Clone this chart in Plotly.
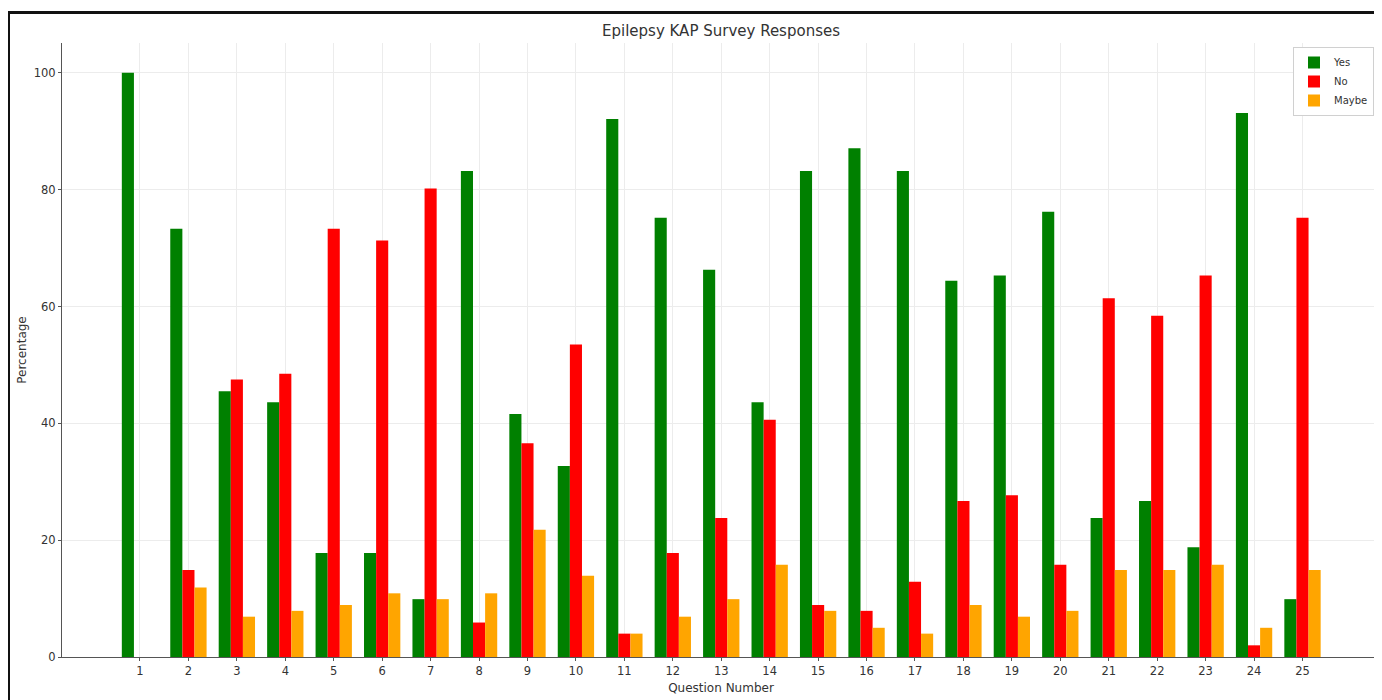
import plotly.graph_objects as go

questions = list(range(1, 26))
yes = [100.0, 73.3, 45.5, 43.6, 17.8, 17.8, 9.9, 83.2, 41.6, 32.7, 92.1, 75.2, 66.3,
       43.6, 83.2, 87.1, 83.2, 64.4, 65.3, 76.2, 23.8, 26.7, 18.8, 93.1, 9.9]
no = [0.0, 14.9, 47.5, 48.5, 73.3, 71.3, 80.2, 5.9, 36.6, 53.5, 4.0, 17.8, 23.8,
      40.6, 8.9, 7.9, 12.9, 26.7, 27.7, 15.8, 61.4, 58.4, 65.3, 2.0, 75.2]
maybe = [0.0, 11.9, 6.9, 7.9, 8.9, 10.9, 9.9, 10.9, 21.8, 13.9, 4.0, 6.9, 9.9,
         15.8, 7.9, 5.0, 4.0, 8.9, 6.9, 7.9, 14.9, 14.9, 15.8, 5.0, 14.9]
tick_labels = [str(q) for q in questions]

# page body has an 8px margin; work in page coordinates and shift
OFF = 8
W, H = 1382 - OFF, 700 - OFF
L, R, T, B = 62 - OFF, 2, 43 - OFF, 43
pw, ph = W - L - R, H - T - B

def px2paper_x(px):
    return (px - OFF - L) / pw

def px2paper_y(py):
    return (H - B - (py - OFF)) / ph

series = [("Yes", yes, "#008000", -0.375), ("No", no, "#ff0000", -0.125), ("Maybe", maybe, "#ffa500", 0.125)]

fig = go.Figure()
for name, vals, color, off in series:
    fig.add_trace(go.Bar(x=questions, y=vals, name=name, marker=dict(color=color, line=dict(width=0)),
                         width=0.25, offset=off))

font = "DejaVu Sans, Arial, sans-serif"
fig.update_layout(
    width=W, height=H,
    margin=dict(l=L, r=R, t=T, b=B, autoexpand=False),
    barmode="overlay",
    paper_bgcolor="white", plot_bgcolor="white",
    font=dict(family=font, color="#333", size=11.5),
    title=dict(text="Epilepsy KAP Survey Responses", x=px2paper_x(721), xref="paper", xanchor="center",
               y=1 - (31 - OFF) / H, yanchor="middle", font=dict(size=15, color="#333")),
    legend=dict(x=px2paper_x(1374), y=px2paper_y(47), xanchor="right", yanchor="top",
                bordercolor="#d0d0d0", borderwidth=1, bgcolor="white", font=dict(size=10),
                itemwidth=30, tracegroupgap=0),
    xaxis=dict(range=[-0.61, 26.6], tickvals=questions, ticktext=tick_labels,
               showgrid=True, gridcolor="#ececec", gridwidth=1,
               showline=True, linecolor="#555", linewidth=1, ticks="outside", ticklen=3,
               tickcolor="#555", zeroline=False, automargin=False,
               title=dict(text="Question Number", font=dict(size=12), standoff=6)),
    yaxis=dict(range=[0, 105.1], tickvals=[0, 20, 40, 60, 80, 100],
               showgrid=True, gridcolor="#ececec", gridwidth=1,
               showline=True, linecolor="#555", linewidth=1, ticks="outside", ticklen=3,
               tickcolor="#555", zeroline=False, automargin=False,
               title=dict(text="Percentage", font=dict(size=12), standoff=4)),
    shapes=[
        dict(type="line", xref="paper", yref="paper", x0=px2paper_x(8), x1=px2paper_x(1382),
             y0=px2paper_y(12.5), y1=px2paper_y(12.5), line=dict(color="#111", width=3)),
        dict(type="line", xref="paper", yref="paper", x0=px2paper_x(9), x1=px2paper_x(9),
             y0=px2paper_y(11), y1=px2paper_y(700), line=dict(color="#111", width=2)),
    ],
)

fig.write_html("out.html")
